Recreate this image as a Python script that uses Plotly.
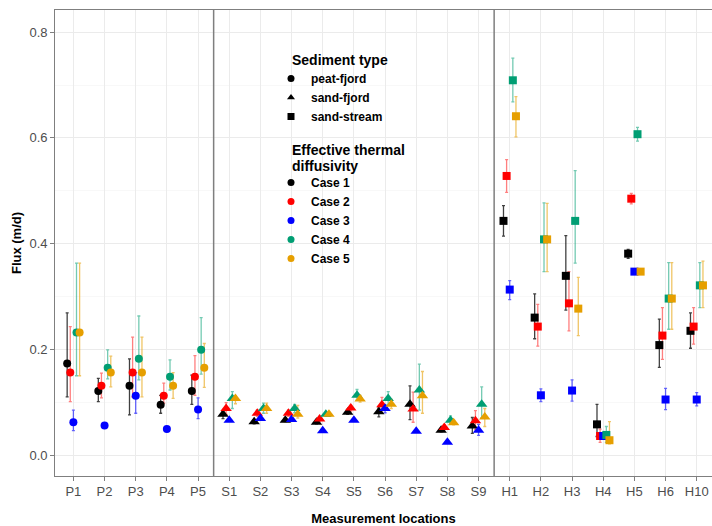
import plotly.graph_objects as go

locations = ["P1", "P2", "P3", "P4", "P5",
             "S1", "S2", "S3", "S4", "S5", "S6", "S7", "S8", "S9",
             "H1", "H2", "H3", "H4", "H5", "H6", "H10"]
sediment = ["peat-fjord"] * 5 + ["sand-fjord"] * 9 + ["sand-stream"] * 7

case_names = ["Case 1", "Case 2", "Case 3", "Case 4", "Case 5"]
case_colors = ["#000000", "#FF0000", "#0000FF", "#009E73", "#E69F00"]
case_err_colors = ["rgba(0,0,0,0.75)", "rgba(255,0,0,0.5)", "rgba(0,0,255,0.6)",
                   "rgba(0,158,115,0.55)", "rgba(230,159,0,0.6)"]

case1 = [0.173, 0.121, 0.131, 0.095, 0.121,
         0.077, 0.063, 0.066, 0.062, 0.081, 0.082, 0.096, 0.047, 0.055,
         0.443, 0.260, 0.339, 0.058, 0.381, 0.208, 0.235]
case1_lo = [0.110, 0.101, 0.076, 0.079, 0.096,
            0.069, 0.059, 0.063, 0.059, 0.077, 0.072, 0.067, 0.044, 0.041,
            0.414, 0.220, 0.274, 0.035, 0.372, 0.166, 0.202]
case1_hi = [0.269, 0.145, 0.182, 0.113, 0.151,
            0.083, 0.067, 0.070, 0.066, 0.086, 0.089, 0.131, 0.051, 0.071,
            0.472, 0.305, 0.415, 0.096, 0.389, 0.257, 0.269]

case2 = [0.156, 0.131, 0.156, 0.112, 0.148,
         0.088, 0.079, 0.079, 0.068, 0.089, 0.095, 0.087, 0.052, 0.065,
         0.528, 0.243, 0.287, 0.036, 0.485, 0.226, 0.243]
case2_lo = [0.101, 0.108, 0.110, 0.098, 0.113,
            0.077, 0.073, 0.073, 0.064, 0.083, 0.084, 0.062, 0.048, 0.048,
            0.497, 0.206, 0.235, 0.024, 0.475, 0.181, 0.210]
case2_hi = [0.243, 0.155, 0.223, 0.136, 0.188,
            0.099, 0.085, 0.085, 0.072, 0.094, 0.109, 0.119, 0.057, 0.084,
            0.559, 0.285, 0.347, 0.049, 0.495, 0.279, 0.279]

case3 = [0.062, 0.056, 0.112, 0.049, 0.086,
         0.066, 0.069, 0.067, 0.046, 0.066, 0.088, 0.045, 0.024, 0.047,
         0.313, 0.113, 0.122, 0.036, 0.347, 0.105, 0.105]
case3_lo = [0.046, 0.056, 0.079, 0.049, 0.069,
            0.066, 0.069, 0.067, 0.046, 0.066, 0.080, 0.045, 0.024, 0.037,
            0.294, 0.101, 0.102, 0.031, 0.347, 0.086, 0.093]
case3_hi = [0.085, 0.056, 0.156, 0.049, 0.108,
            0.066, 0.069, 0.067, 0.046, 0.066, 0.095, 0.045, 0.024, 0.058,
            0.330, 0.125, 0.142, 0.041, 0.347, 0.126, 0.118]

case4 = [0.232, 0.165, 0.182, 0.148, 0.199,
         0.107, 0.088, 0.088, 0.077, 0.113, 0.107, 0.123, 0.066, 0.096,
         0.709, 0.408, 0.443, 0.038, 0.607, 0.296, 0.321]
case4_lo = [0.150, 0.144, 0.142, 0.123, 0.153,
            0.088, 0.079, 0.080, 0.073, 0.104, 0.096, 0.085, 0.060, 0.070,
            0.668, 0.347, 0.363, 0.024, 0.594, 0.238, 0.279]
case4_hi = [0.363, 0.199, 0.263, 0.180, 0.260,
            0.120, 0.098, 0.096, 0.080, 0.124, 0.120, 0.172, 0.074, 0.129,
            0.751, 0.477, 0.538, 0.054, 0.620, 0.364, 0.364]

case5 = [0.232, 0.156, 0.156, 0.131, 0.165,
         0.107, 0.088, 0.077, 0.077, 0.106, 0.096, 0.112, 0.061, 0.072,
         0.641, 0.408, 0.277, 0.028, 0.347, 0.296, 0.321]
case5_lo = [0.150, 0.129, 0.110, 0.107, 0.128,
            0.097, 0.079, 0.070, 0.073, 0.100, 0.088, 0.079, 0.057, 0.054,
            0.602, 0.347, 0.226, 0.021, 0.342, 0.238, 0.279]
case5_hi = [0.363, 0.187, 0.223, 0.156, 0.211,
            0.112, 0.098, 0.094, 0.080, 0.113, 0.105, 0.158, 0.066, 0.088,
            0.678, 0.476, 0.336, 0.063, 0.352, 0.364, 0.367]

cases = [(case1, case1_lo, case1_hi), (case2, case2_lo, case2_hi),
         (case3, case3_lo, case3_hi), (case4, case4_lo, case4_hi),
         (case5, case5_lo, case5_hi)]

sediment_types = ["peat-fjord", "sand-fjord", "sand-stream"]
sediment_symbols = {"peat-fjord": "circle", "sand-fjord": "triangle-up",
                    "sand-stream": "square"}
symbol_sizes = {"peat-fjord": 8, "sand-fjord": 10, "sand-stream": 8}

dodge = 0.1
idx = list(range(len(locations)))
symbols = [sediment_symbols[s] for s in sediment]
sizes = [symbol_sizes[s] for s in sediment]

fig = go.Figure()
# error bars first (all cases), then the points on top
for k, (vals, lo, hi) in enumerate(cases):
    off = (k - 2) * dodge
    fig.add_trace(go.Scatter(
        x=[i + off for i in idx], y=vals, mode="markers",
        marker=dict(color="rgba(0,0,0,0)", size=1),
        error_y=dict(type="data", symmetric=False,
                     array=[h - v for h, v in zip(hi, vals)],
                     arrayminus=[v - l for v, l in zip(vals, lo)],
                     color=case_err_colors[k], thickness=1.3, width=1.5),
        showlegend=False, hoverinfo="skip"))
for k, (vals, lo, hi) in enumerate(cases):
    off = (k - 2) * dodge
    fig.add_trace(go.Scatter(
        x=[i + off for i in idx], y=vals, mode="markers",
        marker=dict(color=case_colors[k], size=sizes, symbol=symbols,
                    opacity=1, line=dict(width=0)),
        showlegend=False, hoverinfo="skip"))

# legend entries: sediment type
for s in sediment_types:
    fig.add_trace(go.Scatter(
        x=[None], y=[None], mode="markers", name=s, legend="legend",
        marker=dict(color="black", size=7, symbol=sediment_symbols[s])))
# legend entries: thermal diffusivity cases
for k, name in enumerate(case_names):
    fig.add_trace(go.Scatter(
        x=[None], y=[None], mode="markers", name=name, legend="legend2",
        marker=dict(color=case_colors[k], size=7, symbol="circle")))

W, H = 712, 526
ML, MR, MT, MB = 55, 0, 10, 50
PW, PH = W - ML - MR, H - MT - MB


def px(xp):
    return (xp - ML) / PW


def py(yp):
    return (H - MB - yp) / PH


legend_font = dict(family="Liberation Sans, Arial, sans-serif", size=12,
                   color="black", weight="bold")

fig.update_layout(
    width=W, height=H,
    margin=dict(l=ML, r=MR, t=MT, b=MB),
    paper_bgcolor="white", plot_bgcolor="white",
    font=dict(family="Liberation Sans, Arial, sans-serif", color="black"),
    hovermode=False,
    xaxis=dict(
        range=[-0.59, 20.49],
        tickmode="array", tickvals=idx, ticktext=locations,
        showgrid=True, gridcolor="#EBEBEB", gridwidth=1,
        zeroline=False,
        showline=True, linecolor="#7F7F7F", linewidth=1.3, mirror=True,
        ticks="outside", ticklen=3.5, tickcolor="#7F7F7F", tickwidth=1,
        tickfont=dict(size=13, color="#4D4D4D"),
        title=dict(text="<b>Measurement locations</b>",
                   font=dict(size=13, color="black"), standoff=17),
        automargin=False),
    yaxis=dict(
        range=[-0.0397, 0.842],
        tickmode="array", tickvals=[0.0, 0.2, 0.4, 0.6, 0.8],
        ticktext=["0.0", "0.2", "0.4", "0.6", "0.8"],
        showgrid=True, gridcolor="#EBEBEB", gridwidth=1,
        minor=dict(tickmode="array", tickvals=[0.1, 0.3, 0.5, 0.7],
                   showgrid=True, gridcolor="#F3F3F3", gridwidth=0.6),
        zeroline=False,
        showline=True, linecolor="#7F7F7F", linewidth=1.3, mirror=False,
        ticks="outside", ticklen=3.5, tickcolor="#7F7F7F", tickwidth=1,
        tickfont=dict(size=13, color="#4D4D4D"),
        title=dict(text="<b>Flux (m/d)</b>",
                   font=dict(size=13, color="black"), standoff=5),
        automargin=False),
    legend=dict(x=px(271), y=py(64), xanchor="left", yanchor="top",
                bgcolor="rgba(0,0,0,0)", font=legend_font,
                itemclick=False, itemdoubleclick=False),
    legend2=dict(x=px(271), y=py(168), xanchor="left", yanchor="top",
                 bgcolor="rgba(0,0,0,0)", font=legend_font,
                 itemclick=False, itemdoubleclick=False),
    shapes=[
        dict(type="rect", xref="paper", yref="paper",
             x0=px(286), x1=px(414), y0=py(264), y1=py(47),
             fillcolor="white", line=dict(width=0), layer="between"),
        dict(type="line", xref="x", yref="paper", x0=4.5, x1=4.5, y0=0, y1=1,
             line=dict(color="#7F7F7F", width=1.5), layer="above"),
        dict(type="line", xref="x", yref="paper", x0=13.5, x1=13.5, y0=0, y1=1,
             line=dict(color="#7F7F7F", width=1.5), layer="above"),
    ],
    annotations=[
        dict(text="<b>Sediment type</b>", xref="paper", yref="paper",
             x=px(290), y=py(60), xanchor="left", yanchor="middle",
             showarrow=False, font=dict(size=14, color="black")),
        dict(text="<b>Effective thermal</b>", xref="paper", yref="paper",
             x=px(290), y=py(150), xanchor="left", yanchor="middle",
             showarrow=False, font=dict(size=14, color="black")),
        dict(text="<b>diffusivity</b>", xref="paper", yref="paper",
             x=px(290), y=py(166), xanchor="left", yanchor="middle",
             showarrow=False, font=dict(size=14, color="black")),
    ],
)

fig.write_html("out.html",
               config={"displayModeBar": False, "staticPlot": True},
               post_script="document.body.style.margin='0';"
                           "document.body.style.overflow='hidden';")
